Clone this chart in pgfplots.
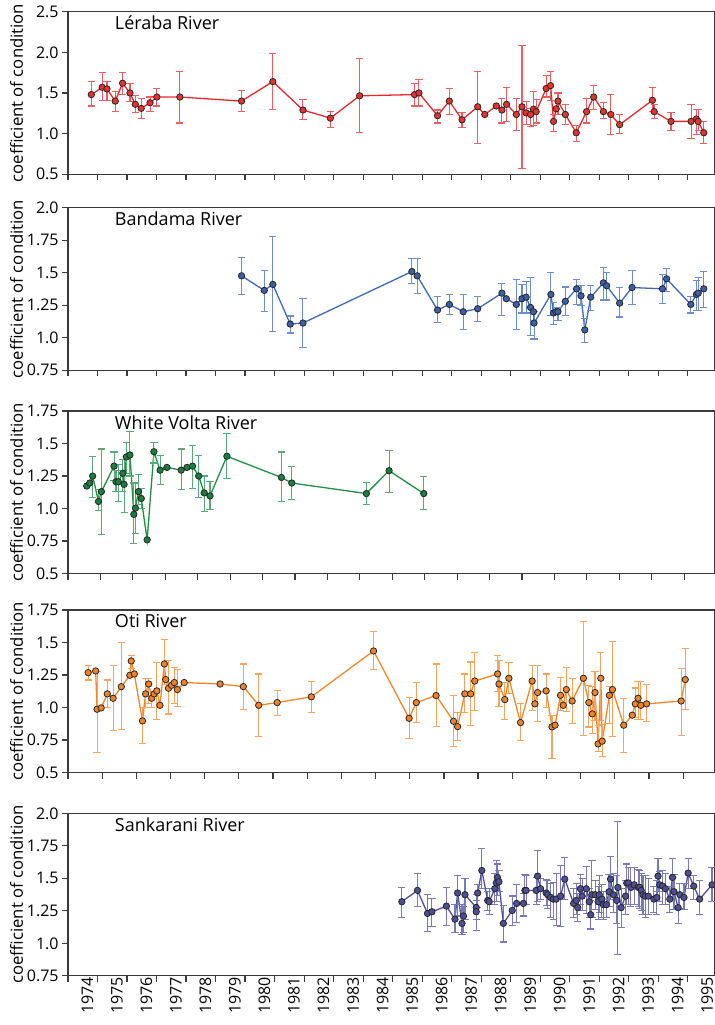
\documentclass[border=0pt]{standalone}
\usepackage{fontspec}
\setmainfont{Open Sans}
\usepackage{pgfplots}
\usepackage{pgfplotstable}
\pgfplotsset{compat=1.18}

\definecolor{axisgray}{HTML}{3A3A3A}
\definecolor{redln}{HTML}{E8282C}
\definecolor{redmk}{HTML}{E23330}
\definecolor{blueln}{HTML}{3D69B3}
\definecolor{bluemk}{HTML}{3C5FA5}
\definecolor{greenln}{HTML}{1F8E45}
\definecolor{greenmk}{HTML}{1B7E3E}
\definecolor{orangeln}{HTML}{F4862A}
\definecolor{orangemk}{HTML}{F0832A}
\definecolor{purpleln}{HTML}{4E4DA0}
\definecolor{purplemk}{HTML}{4F4E94}

% Leraba River
\pgfplotstableread{
x y hi lo
1974.79 1.48 1.64 1.34
1975.16 1.57 1.75 1.41
1975.32 1.55 1.64 1.41
1975.60 1.40 1.52 1.27
1975.85 1.62 1.75 1.48
1976.10 1.50 1.62 1.40
1976.28 1.36 1.47 1.26
1976.48 1.31 1.43 1.19
1976.78 1.38 1.45 1.27
1977.01 1.45 1.55 1.34
1977.79 1.45 1.76 1.13
1979.88 1.40 1.53 1.27
1980.94 1.64 1.99 1.30
1981.96 1.29 1.42 1.17
1982.89 1.19 1.27 1.07
1983.88 1.465 1.925 1.01
1985.74 1.48 1.62 1.34
1985.89 1.50 1.67 1.34
1986.52 1.22 1.29 1.13
1986.92 1.40 1.55 1.24
1987.35 1.17 1.26 1.07
1987.88 1.33 1.76 0.88
1988.12 1.235 1.235 1.235
1988.51 1.34 1.34 1.34
1988.70 1.29 1.43 1.13
1988.86 1.36 1.57 1.15
1989.19 1.235 1.43 1.04
1989.38 1.33 2.08 0.57
1989.52 1.255 1.40 1.11
1989.67 1.235 1.31 1.09
1989.77 1.30 1.52 1.10
1989.86 1.27 1.42 1.13
1990.20 1.555 1.72 1.45
1990.35 1.59 1.76 1.41
1990.45 1.15 1.23 1.03
1990.54 1.305 1.305 1.305
1990.60 1.40 1.50 1.24
1990.85 1.235 1.36 1.11
1991.22 1.01 1.10 0.90
1991.57 1.27 1.43 1.13
1991.81 1.45 1.59 1.30
1992.14 1.27 1.38 1.19
1992.39 1.235 1.48 0.99
1992.69 1.11 1.24 1.00
1993.80 1.41 1.57 1.27
1993.86 1.27 1.36 1.19
1994.43 1.15 1.26 1.04
1995.11 1.15 1.36 0.94
1995.29 1.18 1.30 0.99
1995.35 1.15 1.30 1.04
1995.54 1.01 1.15 0.88
}\leraba

% Bandama River
\pgfplotstableread{
x y hi lo
1979.88 1.476 1.62 1.335
1980.65 1.364 1.517 1.20
1980.94 1.41 1.78 1.05
1981.53 1.105 1.167 1.036
1981.96 1.113 1.30 0.926
1985.65 1.509 1.609 1.42
1985.83 1.476 1.609 1.343
1986.52 1.213 1.32 1.115
1986.92 1.256 1.33 1.18
1987.39 1.20 1.33 1.06
1987.88 1.223 1.32 1.125
1988.70 1.343 1.42 1.17
1988.85 1.30 1.30 1.30
1989.19 1.256 1.45 1.06
1989.38 1.30 1.41 1.19
1989.52 1.312 1.43 1.19
1989.67 1.233 1.466 1.016
1989.77 1.20 1.20 1.20
1989.79 1.113 1.20 0.99
1990.36 1.333 1.50 1.17
1990.45 1.19 1.27 1.10
1990.53 1.20 1.20 1.20
1990.60 1.20 1.23 1.13
1990.85 1.28 1.39 1.17
1991.23 1.376 1.45 1.256
1991.38 1.323 1.40 1.246
1991.51 1.06 1.146 0.962
1991.71 1.312 1.40 1.21
1992.14 1.422 1.542 1.29
1992.25 1.40 1.50 1.29
1992.69 1.266 1.386 1.159
1993.11 1.386 1.52 1.256
1994.14 1.376 1.486 1.266
1994.28 1.453 1.53 1.356
1995.10 1.256 1.32 1.19
1995.29 1.333 1.44 1.21
1995.35 1.343 1.466 1.21
1995.54 1.376 1.51 1.233
}\bandama

% White Volta River
\pgfplotstableread{
x y hi lo
1974.58 1.173 1.173 1.173
1974.67 1.196 1.196 1.196
1974.76 1.25 1.40 1.087
1974.94 1.054 1.143 0.985
1975.03 1.13 1.458 0.80
1975.42 1.326 1.435 1.216
1975.48 1.206 1.29 1.13
1975.55 1.206 1.336 1.054
1975.69 1.272 1.38 1.13
1975.73 1.186 1.38 0.967
1975.80 1.397 1.51 1.272
1975.91 1.412 1.59 1.25
1976.03 0.955 1.196 0.729
1976.08 1.003 1.196 0.805
1976.17 1.13 1.26 1.034
1976.26 1.077 1.153 1.003
1976.44 0.759 0.759 0.759
1976.65 1.437 1.51 1.35
1976.84 1.295 1.405 1.186
1977.05 1.316 1.316 1.316
1977.49 1.295 1.458 1.143
1977.67 1.316 1.316 1.316
1977.84 1.326 1.488 1.153
1978.03 1.25 1.41 1.087
1978.20 1.12 1.25 0.98
1978.38 1.097 1.206 0.99
1978.90 1.402 1.577 1.229
1980.58 1.239 1.435 1.054
1980.90 1.196 1.326 1.067
1983.20 1.115 1.20 1.03
1983.90 1.291 1.444 1.125
1984.97 1.115 1.247 0.995
}\whitevolta

% Oti River
\pgfplotstableread{
x y hi lo
1974.59 1.268 1.32 1.212
1974.81 1.281 1.281 1.281
1974.85 0.987 1.28 0.654
1974.97 0.997 0.997 0.997
1975.15 1.105 1.212 0.997
1975.32 1.071 1.322 0.82
1975.56 1.16 1.50 0.828
1975.81 1.248 1.248 1.248
1975.85 1.358 1.40 1.30
1975.94 1.258 1.258 1.258
1976.18 0.897 1.00 0.72
1976.27 1.105 1.225 1.00
1976.36 1.181 1.225 1.03
1976.45 1.071 1.115 1.00
1976.52 1.105 1.105 1.105
1976.60 1.128 1.345 0.905
1976.69 1.017 1.017 1.017
1976.82 1.335 1.52 1.18
1976.86 1.215 1.215 1.215
1976.94 1.148 1.36 0.95
1977.03 1.171 1.171 1.171
1977.11 1.192 1.31 1.03
1977.20 1.138 1.29 1.01
1977.40 1.192 1.192 1.192
1978.45 1.181 1.181 1.181
1979.13 1.161 1.335 0.984
1979.58 1.017 1.258 0.774
1980.12 1.038 1.128 0.94
1981.12 1.082 1.202 0.96
1982.94 1.435 1.586 1.29
1983.98 0.917 1.08 0.764
1984.19 1.038 1.19 0.884
1984.77 1.092 1.335 0.853
1985.28 0.894 1.092 0.697
1985.40 0.853 0.96 0.743
1985.61 1.105 1.258 0.96
1985.78 1.105 1.35 0.864
1985.90 1.204 1.42 0.974
1986.57 1.258 1.40 1.12
1986.61 1.181 1.36 1.007
1986.78 1.061 1.19 0.907
1986.90 1.225 1.345 1.105
1987.24 0.884 1.028 0.743
1987.58 1.204 1.32 0.974
1987.66 1.028 1.028 1.028
1987.74 1.115 1.32 0.89
1987.99 1.128 1.258 1.00
1988.16 0.851 0.94 0.61
1988.25 0.864 0.864 0.864
1988.41 1.094 1.23 0.98
1988.49 1.017 1.017 1.017
1988.58 1.138 1.31 0.97
1988.75 1.05 1.22 0.88
1989.08 1.225 1.665 0.787
1989.24 1.038 1.17 0.85
1989.34 0.951 1.16 0.80
1989.42 1.115 1.28 0.90
1989.51 0.72 0.86 0.66
1989.59 1.225 1.425 0.90
1989.63 0.741 0.866 0.62
1989.84 1.094 1.16 0.88
1989.93 1.138 1.51 0.774
1990.26 0.864 1.071 0.654
1990.51 0.941 0.941 0.941
1990.60 1.028 1.15 0.92
1990.68 1.071 1.20 0.91
1990.76 1.017 1.20 0.91
1990.93 1.028 1.18 0.89
1991.94 1.05 1.30 0.787
1992.06 1.215 1.455 0.984
}\oti

% Sankarani River
\pgfplotstableread{
x y hi lo
1985.31 1.32 1.43 1.20
1985.84 1.407 1.54 1.286
1986.18 1.23 1.376 1.09
1986.33 1.243 1.345 1.13
1986.82 1.286 1.43 1.14
1987.11 1.186 1.30 1.08
1987.20 1.387 1.52 1.21
1987.35 1.153 1.30 1.068
1987.40 1.21 1.28 1.08
1987.45 1.374 1.497 1.18
1987.83 1.276 1.33 1.18
1987.83 1.243 1.376 1.10
1987.88 1.387 1.453 1.276
1988.02 1.56 1.73 1.42
1988.22 1.33 1.40 1.25
1988.27 1.32 1.42 1.22
1988.46 1.42 1.54 1.30
1988.51 1.464 1.64 1.32
1988.55 1.507 1.61 1.37
1988.60 1.474 1.56 1.40
1988.75 1.153 1.29 1.01
1989.05 1.253 1.364 1.14
1989.20 1.307 1.45 1.16
1989.43 1.307 1.386 1.21
1989.48 1.407 1.53 1.30
1989.52 1.407 1.52 1.30
1989.86 1.407 1.507 1.30
1989.91 1.517 1.715 1.32
1990.01 1.42 1.50 1.34
1990.20 1.387 1.487 1.29
1990.25 1.374 1.48 1.27
1990.35 1.353 1.46 1.20
1990.44 1.34 1.47 1.18
1990.54 1.34 1.54 1.135
1990.69 1.363 1.596 1.13
1990.83 1.494 1.66 1.34
1991.13 1.307 1.42 1.20
1991.22 1.33 1.46 1.22
1991.27 1.274 1.38 1.17
1991.36 1.42 1.53 1.30
1991.42 1.363 1.50 1.25
1991.56 1.42 1.59 1.23
1991.66 1.32 1.42 1.20
1991.71 1.22 1.33 1.11
1991.75 1.374 1.64 1.20
1991.86 1.374 1.48 1.26
1991.96 1.32 1.44 1.18
1992.00 1.374 1.52 1.24
1992.09 1.34 1.45 1.20
1992.14 1.297 1.40 1.18
1992.24 1.297 1.40 1.20
1992.33 1.397 1.53 1.28
1992.38 1.494 1.67 1.34
1992.48 1.374 1.54 1.24
1992.59 1.33 1.52 1.15
1992.63 1.43 1.936 0.912
1992.74 1.274 1.42 1.12
1992.89 1.363 1.48 1.22
1992.93 1.464 1.61 1.30
1992.99 1.464 1.58 1.30
1993.07 1.43 1.58 1.28
1993.18 1.45 1.58 1.30
1993.32 1.43 1.57 1.28
1993.37 1.43 1.56 1.27
1993.42 1.407 1.54 1.25
1993.48 1.374 1.52 1.22
1993.56 1.363 1.52 1.20
1993.66 1.363 1.50 1.22
1993.85 1.34 1.44 1.24
1993.95 1.353 1.48 1.22
1993.99 1.517 1.65 1.40
1994.05 1.45 1.55 1.32
1994.15 1.44 1.56 1.30
1994.24 1.42 1.54 1.30
1994.39 1.34 1.44 1.24
1994.48 1.507 1.65 1.34
1994.53 1.397 1.53 1.26
1994.67 1.274 1.38 1.15
1994.73 1.374 1.46 1.27
1994.87 1.353 1.46 1.26
1995.01 1.54 1.65 1.42
1995.20 1.44 1.52 1.34
1995.40 1.34 1.48 1.22
1995.82 1.45 1.58 1.32
}\sankarani

\pgfplotsset{
  panel/.style={
    width=323.5pt, height=81.25pt, scale only axis,
    anchor=north west,
    xmin=1974,
    axis line style={draw=axisgray, line width=0.6pt},
    tick style={draw=axisgray, line width=0.6pt},
    major tick length=3pt,
    tick align=outside,
    xtick pos=left, ytick pos=left,
    xticklabels={},
    ylabel={coefficient of condition},
    every axis y label/.style={at={(axis description cs:-0.0793,0.5)}, rotate=90, anchor=center, inner sep=0pt, font=\fontsize{8.35}{9}\selectfont},
    tick label style={font=\fontsize{8}{9}\selectfont},
    yticklabel style={inner sep=1.5pt},
  },
  series/.style n args={3}{
    color=#1, line width=0.65pt,
    mark=*, mark size=1.6pt,
    mark options={fill=#2, draw=black!85, line width=0.4pt},
    error bars/.cd, y dir=both, y explicit,
    error bar style={draw=#3, line width=0.55pt},
    error mark options={draw=#3, line width=0.55pt, mark size=1.8pt, rotate=90},
  },
}

\newcommand{\paneltitle}[1]{\node[anchor=west, font=\fontsize{9}{10}\selectfont, inner sep=0pt] at (axis description cs:0.072,0.93) {#1};}

\begin{document}
\begin{tikzpicture}

\begin{axis}[panel, at={(0pt,0pt)}, xmax=1995.92, xtick={1974,...,1995},
  ymin=0.5, ymax=2.5, ytick={0.5,1.0,1.5,2.0,2.5}, yticklabels={0.5,1.0,1.5,2.0,2.5}]
\addplot[series={redln}{redmk}{redln!75}] table[x=x, y=y, y error plus expr=\thisrow{hi}-\thisrow{y}, y error minus expr=\thisrow{y}-\thisrow{lo}] \leraba;
\paneltitle{Léraba River}
\end{axis}

\begin{axis}[panel, at={(0pt,-98pt)}, xmax=1995.92, xtick={1974,...,1995},
  ymin=0.75, ymax=2.0, ytick={0.75,1.0,1.25,1.5,1.75,2.0}, yticklabels={0.75,1.0,1.25,1.5,1.75,2.0}]
\addplot[series={blueln}{bluemk}{blueln!75}] table[x=x, y=y, y error plus expr=\thisrow{hi}-\thisrow{y}, y error minus expr=\thisrow{y}-\thisrow{lo}] \bandama;
\paneltitle{Bandama River}
\end{axis}

\begin{axis}[panel, at={(0pt,-199.65pt)}, xmax=1993.95, xtick={1974,...,1993},
  ymin=0.5, ymax=1.75, ytick={0.5,0.75,1.0,1.25,1.5,1.75}, yticklabels={0.5,0.75,1.0,1.25,1.5,1.75}]
\addplot[series={greenln}{greenmk}{greenln!75}] table[x=x, y=y, y error plus expr=\thisrow{hi}-\thisrow{y}, y error minus expr=\thisrow{y}-\thisrow{lo}] \whitevolta;
\paneltitle{White Volta River}
\end{axis}

\begin{axis}[panel, at={(0pt,-299.15pt)}, xmax=1992.93, xtick={1974,...,1992},
  ymin=0.5, ymax=1.75, ytick={0.5,0.75,1.0,1.25,1.5,1.75}, yticklabels={0.5,0.75,1.0,1.25,1.5,1.75}]
\addplot[series={orangeln}{orangemk}{orangeln!75}] table[x=x, y=y, y error plus expr=\thisrow{hi}-\thisrow{y}, y error minus expr=\thisrow{y}-\thisrow{lo}] \oti;
\paneltitle{Oti River}
\end{axis}

\begin{axis}[panel, at={(0pt,-400.8pt)}, xmax=1995.92, xtick={1974,...,1995},
  ymin=0.75, ymax=2.0, ytick={0.75,1.0,1.25,1.5,1.75,2.0}, yticklabels={0.75,1.0,1.25,1.5,1.75,2.0},
  extra x ticks={1974.42,1975.42,1976.42,1977.42,1978.42,1979.42,1980.42,1981.42,1982.42,1983.42,1984.42,1985.42,1986.42,1987.42,1988.42,1989.42,1990.42,1991.42,1992.42,1993.42,1994.42,1995.42},
  extra x tick labels={1974,1975,1976,1977,1978,1979,1980,1981,1982,1983,1984,1985,1986,1987,1988,1989,1990,1991,1992,1993,1994,1995},
  extra x tick style={major tick length=0pt, tick style={draw=none}, tick label style={rotate=90, anchor=east, inner sep=0.5pt, yshift=-3.5pt}}]
\addplot[series={purpleln}{purplemk}{purpleln!75}] table[x=x, y=y, y error plus expr=\thisrow{hi}-\thisrow{y}, y error minus expr=\thisrow{y}-\thisrow{lo}] \sankarani;
\paneltitle{Sankarani River}
\end{axis}

\pgfresetboundingbox
\path[use as bounding box] (-34pt,5.85pt) rectangle (323.5pt,-506.65pt);
\end{tikzpicture}
\end{document}
